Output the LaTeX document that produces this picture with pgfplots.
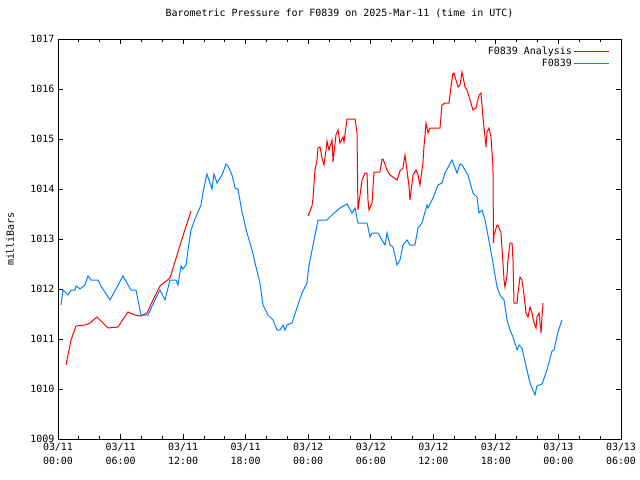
\documentclass[border=0pt]{standalone}
\usepackage{pgfplots}
\pgfplotsset{compat=1.18}
\usepackage{fontspec}
\setmainfont{DejaVu Sans Mono}
\definecolor{gpred}{RGB}{255,0,0}
\definecolor{gpblue}{RGB}{0,128,255}
\begin{document}
\fontsize{10}{11}\selectfont
\begin{tikzpicture}
\useasboundingbox (-58bp,-41bp) rectangle (582bp,439bp);
\begin{axis}[
  scale only axis,
  width=563bp, height=400bp,
  xmin=0, xmax=54, ymin=1009, ymax=1017,
  axis line style={line width=0.8bp},
  every tick/.style={black, line width=0.8bp},
  major tick length=5bp, minor tick length=3bp,
  tick align=inside,
  xtick={0,6,...,54},
  minor x tick num=2,
  ytick={1009,1010,...,1017},
  minor y tick num=0,
  xticklabels={03/11\\00:00,03/11\\06:00,03/11\\12:00,03/11\\18:00,03/12\\00:00,03/12\\06:00,03/12\\12:00,03/12\\18:00,03/13\\00:00,03/13\\06:00},
  xticklabel style={align=center, font=\fontsize{10}{14}\selectfont, yshift=-1bp},
  yticklabel style={font=\fontsize{10}{11}\selectfont},
  /pgf/number format/assume math mode=true,
  /pgf/number format/1000 sep={},
  ylabel={milliBars},
  ylabel style={at={(axis description cs:-0.085,0.5)}, anchor=center, font=\fontsize{10}{11}\selectfont},
  title={Barometric Pressure for F0839 on 2025-Mar-11 (time in UTC)},
  title style={at={(axis description cs:0.5,1.05)}, anchor=center, font=\fontsize{10}{11}\selectfont},
  unbounded coords=jump,
  legend plot pos=right,
  legend cell align=right,
  legend style={draw=none, fill=none, at={(axis description cs:1,1)}, xshift=-11bp, yshift=-6bp, anchor=north east, inner sep=0pt, row sep=-1.5bp, font=\fontsize{10}{11}\selectfont},
  legend image code/.code={\path (0bp,0bp) -- (6bp,0bp); \draw[#1] (6bp,0bp) -- (35bp,0bp);},
]
\addplot[gpred, line width=1bp] coordinates {
(0.77,1010.48) (1.25,1010.98) (1.73,1011.26) (2.59,1011.28) (3.07,1011.32) (3.74,1011.44)
(4.80,1011.22) (5.75,1011.24) (6.71,1011.54) (7.39,1011.48) (7.96,1011.46) (8.54,1011.52)
(9.11,1011.78) (9.78,1012.06) (10.26,1012.14) (10.74,1012.22) (11.80,1012.94) (12.76,1013.56)
(18,nan)
(23.98,1013.46) (24.36,1013.66) (24.46,1013.82) (24.65,1014.38) (24.84,1014.58) (24.94,1014.82)
(25.13,1014.84) (25.32,1014.62) (25.51,1014.48) (25.71,1014.78) (25.80,1014.96) (25.99,1014.78)
(26.28,1014.98) (26.38,1014.54) (26.66,1015.08) (26.86,1015.18) (27.05,1014.92) (27.34,1015.04)
(27.43,1014.94) (27.72,1015.40) (28.49,1015.40) (28.68,1015.12) (28.77,1013.58) (28.97,1013.88)
(29.16,1014.18) (29.45,1014.32) (29.64,1014.32) (29.73,1013.78) (29.83,1013.58) (30.12,1013.72)
(30.31,1014.34) (30.88,1014.34) (31.08,1014.60) (31.17,1014.60) (31.56,1014.38) (31.84,1014.28)
(32.52,1014.18) (32.80,1014.36) (33.09,1014.42) (33.28,1014.68) (33.47,1014.38) (33.67,1014.04)
(33.76,1013.78) (34.05,1014.28) (34.34,1014.38) (34.53,1014.28) (34.72,1014.08) (35.01,1014.54)
(35.10,1014.84) (35.30,1015.32) (35.49,1015.12) (35.68,1015.22) (36.64,1015.22) (36.83,1015.68)
(37.12,1015.72) (37.50,1015.72) (37.69,1016.04) (37.89,1016.32) (37.98,1016.32) (38.17,1016.18)
(38.37,1016.04) (38.56,1016.08) (38.75,1016.34) (39.04,1016.04) (39.23,1015.98) (39.52,1015.78)
(39.80,1015.58) (40.09,1015.62) (40.38,1015.88) (40.57,1015.92) (40.76,1015.44) (40.86,1015.24)
(41.05,1014.84) (41.15,1015.14) (41.34,1015.22) (41.53,1015.04) (41.72,1014.44) (41.77,1012.92)
(41.82,1013.08) (42.11,1013.28) (42.20,1013.28) (42.49,1013.12) (42.68,1012.52) (42.78,1012.18)
(42.87,1012.04) (43.07,1012.28) (43.16,1012.58) (43.35,1012.92) (43.55,1012.92) (43.64,1012.58)
(43.74,1011.72) (44.03,1011.72) (44.12,1011.92) (44.31,1012.24) (44.50,1012.18) (44.70,1011.88)
(44.89,1011.52) (45.08,1011.44) (45.27,1011.64) (45.46,1011.52) (45.66,1011.32) (45.85,1011.22)
(45.94,1011.44) (46.14,1011.52) (46.33,1011.12) (46.42,1011.44) (46.52,1011.72)
};
\addlegendentry{F0839 Analysis}
\addplot[gpblue, line width=1bp] coordinates {
(0.29,1011.68) (0.48,1011.98) (0.96,1011.88) (1.25,1011.98) (1.63,1011.98) (1.73,1012.06)
(2.11,1012.00) (2.59,1012.08) (2.88,1012.26) (3.17,1012.18) (3.84,1012.18) (4.12,1012.06)
(4.99,1011.78) (6.23,1012.26) (7.00,1011.98) (7.48,1011.98) (7.67,1011.78) (7.96,1011.48)
(8.63,1011.48) (9.30,1011.78) (9.78,1011.98) (10.26,1011.78) (10.74,1012.18) (11.32,1012.18)
(11.51,1012.08) (11.80,1012.46) (11.99,1012.40) (12.28,1012.48) (12.47,1012.78) (12.76,1013.18)
(13.14,1013.40) (13.72,1013.68) (13.91,1013.94) (14.29,1014.30) (14.77,1014.00) (14.96,1014.30)
(15.25,1014.12) (15.73,1014.28) (16.11,1014.50) (16.31,1014.46) (16.69,1014.28) (16.98,1014.02)
(17.26,1014.00) (17.65,1013.54) (18.13,1013.12) (18.61,1012.78) (18.90,1012.52) (19.37,1012.12)
(19.66,1011.68) (20.14,1011.48) (20.62,1011.38) (21.01,1011.18) (21.29,1011.18) (21.58,1011.28)
(21.77,1011.18) (21.96,1011.28) (22.44,1011.32) (22.92,1011.62) (23.40,1011.92) (23.88,1012.12)
(24.07,1012.46) (24.65,1013.08) (24.94,1013.38) (25.80,1013.38) (26.28,1013.48) (27.05,1013.62)
(27.72,1013.70) (28.20,1013.52) (28.49,1013.62) (28.77,1013.32) (29.64,1013.32) (29.93,1013.04)
(30.12,1013.12) (30.69,1013.12) (31.36,1012.88) (31.56,1013.12) (31.84,1012.88) (32.13,1012.84)
(32.52,1012.48) (32.80,1012.58) (33.09,1012.88) (33.47,1012.98) (33.76,1012.88) (34.24,1012.88)
(34.53,1013.22) (34.91,1013.32) (35.39,1013.68) (35.49,1013.62) (35.97,1013.82) (36.45,1014.08)
(36.83,1014.12) (37.12,1014.32) (37.79,1014.58) (38.27,1014.32) (38.56,1014.50) (38.75,1014.48)
(39.32,1014.28) (39.80,1013.92) (40.19,1013.84) (40.38,1013.52) (40.67,1013.58) (40.96,1013.38)
(41.43,1012.86) (41.72,1012.52) (42.11,1012.04) (42.39,1011.88) (42.78,1011.78) (43.07,1011.38)
(43.35,1011.18) (43.64,1011.04) (44.03,1010.78) (44.22,1010.88) (44.50,1010.82) (44.98,1010.38)
(45.27,1010.12) (45.75,1009.88) (45.94,1010.06) (46.42,1010.10) (46.90,1010.38) (47.38,1010.76)
(47.57,1010.78) (47.96,1011.14) (48.34,1011.38)
};
\addlegendentry{F0839}
\end{axis}
\end{tikzpicture}
\end{document}
